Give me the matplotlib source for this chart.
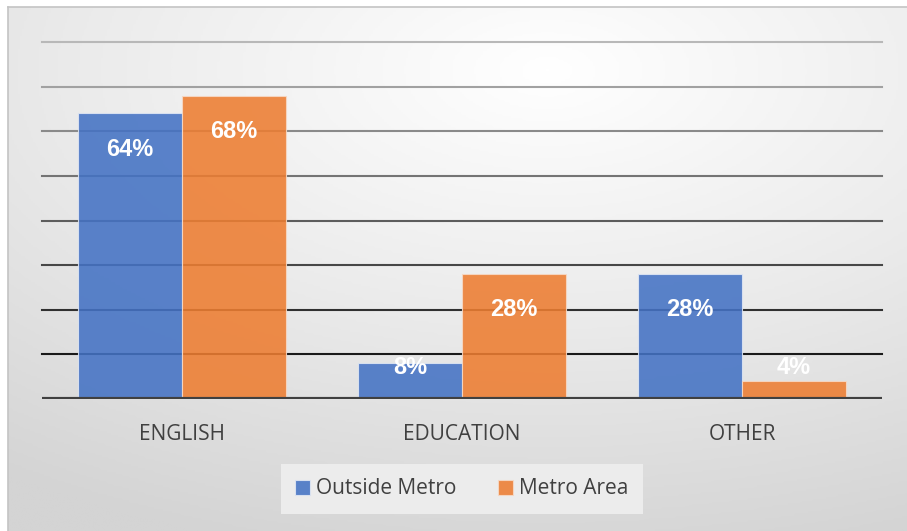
import numpy as np
import matplotlib
matplotlib.use("Agg")
from matplotlib import pyplot as plt
from matplotlib.colors import LinearSegmentedColormap

categories = ["ENGLISH", "EDUCATION", "OTHER"]
outside_metro = [64, 8, 28]
metro_area = [68, 28, 4]
series_names = ["Outside Metro", "Metro Area"]

blue = "#4472C4"
orange = "#ED7D31"

fig = plt.figure(figsize=(9.07, 5.31), dpi=100)
fig.patch.set_facecolor("white")

# radial grey background behind the whole chart
bg = fig.add_axes([8 / 907, 0, 1 - 8 / 907, 1 - 7 / 531], zorder=-10)
gx, gy = np.meshgrid(np.linspace(0, 1, 400), np.linspace(0, 1, 240))
r = np.sqrt(((gx - 0.6) / 1.1) ** 2 + ((gy - 0.12) / 1.0) ** 2)
cmap = LinearSegmentedColormap.from_list("bg", ["#ffffff", "#ebebeb", "#d4d4d4"])
bg.imshow(r, cmap=cmap, vmin=0, vmax=0.95, aspect="auto", extent=[0, 1, 1, 0])
bg.set_xlim(0, 1)
bg.set_ylim(1, 0)
bg.set_xticks([])
bg.set_yticks([])
for side in bg.spines.values():
    side.set_color("#c4c4c4")
    side.set_linewidth(1.2)
bg.spines["right"].set_visible(False)
bg.spines["bottom"].set_visible(False)

ax = fig.add_axes([42 / 907, 1 - 399 / 531, 840 / 907, 357 / 531])
ax.patch.set_alpha(0)

# gridlines fade from light grey at top to black near the base
levels = np.arange(10, 81, 10)
for lv in levels:
    t = (lv - 10) / 70
    c = (1 - t) * np.array([0.10, 0.10, 0.10]) + t * np.array([0.72, 0.72, 0.72])
    ax.axhline(lv, color=c, lw=1.5, zorder=1, clip_on=False)

x = np.arange(len(categories))
w = 0.372
b1 = ax.bar(x - w / 2, outside_metro, w, color=blue, alpha=0.88,
            edgecolor="#dfe6f3", linewidth=0.8, zorder=2)
b2 = ax.bar(x + w / 2, metro_area, w, color=orange, alpha=0.88,
            edgecolor="#f6d9c6", linewidth=0.8, zorder=2)

for bars, vals in [(b1, outside_metro), (b2, metro_area)]:
    for rect, v in zip(bars, vals):
        ypos = max(v - 8, 7)
        ax.text(rect.get_x() + rect.get_width() / 2, ypos, "%d%%" % v,
                ha="center", va="center", color="white", fontsize=17,
                fontweight="bold", family="Liberation Sans", zorder=3)

ax.axhline(0, color="#404040", lw=3, zorder=4)
ax.set_xlim(-0.5, 2.5)
ax.set_ylim(0, 80)
ax.set_yticks([])
ax.set_xticks(x)
ax.set_xticklabels(categories, fontsize=15, color="#404040", family="Open Sans")
ax.tick_params(axis="x", length=0, pad=18)
for side in ax.spines.values():
    side.set_visible(False)

leg = fig.legend([b1, b2], series_names, loc="center", bbox_to_anchor=(462 / 907, 1 - 489 / 531),
                 ncol=2, frameon=True, fancybox=False,
                 prop={"family": "Open Sans", "size": 15},
                 handlelength=0.7, handleheight=0.7, handletextpad=0.3,
                 columnspacing=2.0, borderpad=0.7, borderaxespad=0,
                 labelcolor="#404040")
leg.get_frame().set_facecolor("#ececec")
leg.get_frame().set_edgecolor("none")
leg.get_frame().set_alpha(1)

fig.savefig("out.png", dpi=100)
